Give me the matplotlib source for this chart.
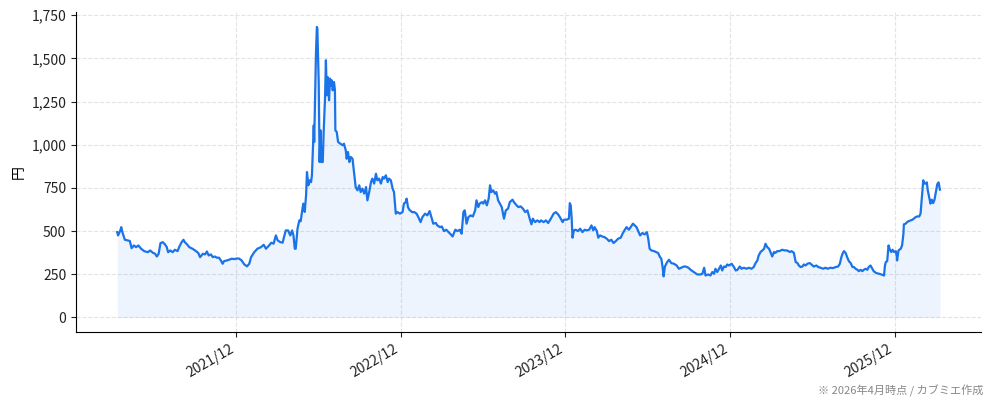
import matplotlib
matplotlib.use("Agg")
import matplotlib.pyplot as plt
import matplotlib.dates as mdates
from matplotlib.ticker import MultipleLocator, FuncFormatter
import pandas as pd
import numpy as np

plt.rcParams['font.family'] = ['Noto Sans CJK JP', 'DejaVu Sans']

# ---- data ----
base_date = "2021-12-01"
# calendar days relative to base_date
day_offset = [
    -264, -262, -257, -255, -252, -247, -241, -236, -232, -227, -222, -217, -211, -204,
    -196, -191, -185, -180, -176, -172, -168, -163, -158, -154, -151, -146, -141, -136,
    -130, -126, -121, -117, -114, -109, -104, -97, -89, -84, -80, -74, -69, -65, -61,
    -56, -52, -47, -43, -38, -34, -30, -27, -21, -16, -10, -4, 2, 7, 12, 18, 24, 29,
    33, 40, 47, 55, 61, 66, 73, 78, 83, 88, 92, 98, 103, 106, 110, 115, 120, 124, 127,
    130, 132, 136, 140, 143, 147, 149, 152, 155, 157, 160, 163, 166, 168, 172, 173, 175,
    177, 179, 180, 183, 185, 187, 189, 192, 194, 197, 199, 201, 203, 206, 208, 210, 212,
    214, 217, 219, 220, 223, 226, 231, 236, 239, 243, 245, 248, 251, 254, 258, 262, 265,
    269, 273, 276, 280, 284, 288, 291, 295, 299, 302, 306, 310, 313, 317, 321, 325, 328,
    332, 336, 339, 343, 347, 350,
    354, 358, 363, 369, 372, 376, 378, 381, 384, 390, 395, 400, 404, 409, 413, 419, 424,
    429, 434, 437, 443, 446, 452, 456, 461, 466, 471, 476, 480, 486, 491, 496, 500, 504,
    507, 511, 515, 520, 525, 530, 533, 537, 540, 545, 548, 552, 556, 560, 563, 566, 570,
    574, 577, 581, 585, 589, 594, 598, 603, 607, 613, 616, 622, 626, 631, 636, 641, 646,
    651, 655, 658, 663, 668, 673,
    676, 682, 687, 692, 698, 704, 709, 714, 718, 724, 727, 733, 738, 740, 742, 744, 746,
    749, 753, 758, 763, 768, 773, 778, 783, 788, 792, 795, 800, 803, 807, 812, 817, 822,
    827, 832, 837, 842, 847, 853, 857, 862, 866, 871, 875, 880, 884, 888, 891, 896, 901,
    906, 911, 914, 917, 921, 927, 931, 936, 940, 943, 946, 948, 951, 956, 960, 965, 971,
    977, 982, 987, 993,
    997, 1003, 1008, 1015, 1023, 1030, 1034, 1038, 1041, 1047, 1052, 1056, 1060, 1063,
    1067, 1071, 1075, 1078, 1082, 1086, 1089, 1093, 1099, 1104, 1108, 1112, 1117, 1121,
    1126, 1132, 1137, 1143, 1148, 1152, 1156, 1159, 1163, 1167, 1171, 1174, 1178, 1182,
    1185, 1189, 1193, 1196, 1200, 1205, 1211, 1217, 1222, 1228, 1232, 1237, 1241, 1245,
    1248, 1252, 1256, 1259, 1263, 1267, 1272, 1276, 1281, 1287, 1291,
    1296, 1302, 1307, 1312, 1318, 1324, 1330, 1335, 1339, 1342, 1345, 1348, 1352, 1355,
    1359, 1363, 1367, 1370, 1374, 1378, 1381, 1385, 1389, 1392, 1396, 1400, 1403, 1407,
    1411, 1414, 1420, 1426, 1431, 1437, 1439, 1441, 1444, 1447, 1450, 1453, 1456, 1459,
    1463, 1465, 1466, 1469, 1474, 1477, 1480, 1481, 1485, 1488, 1492, 1496, 1500, 1503,
    1507, 1511, 1515, 1518, 1520, 1522, 1524, 1527, 1530, 1532, 1534, 1537, 1540, 1543,
    1546, 1549, 1552, 1555, 1558, 1561,
]
price_yen = [
    494, 475, 504, 523, 490, 450, 446, 443, 401, 417, 407, 417, 398, 384,
    378, 388, 375, 369, 353, 369, 430, 436, 423, 407, 378, 388, 378, 392,
    384, 411, 436, 450, 436, 423, 407, 398, 384, 373, 349, 369, 365, 382, 359,
    365, 349, 353, 346, 346, 330, 311, 326, 330, 334, 340, 338, 342, 340, 330, 307, 296, 311,
    349, 378, 398, 407, 421, 398, 417, 433, 427, 475, 446, 436, 433, 465, 504, 504, 475, 504, 475,
    398, 398, 514, 562, 557, 630, 659, 611, 707, 842, 765, 794, 783, 823, 1112, 1016, 1267,
    1537, 1682, 1674, 1363, 900, 1083, 900, 900, 1074, 1267, 1489, 1286, 1392, 1257, 1383, 1344, 1373,
    1315, 1363, 1315, 1083, 1074, 1016, 1006, 997, 1006, 968, 919, 958, 900, 929, 919, 823, 755,
    736, 765, 726, 746, 717, 755, 678, 726, 784, 804, 775, 832, 794, 804, 775, 813, 804,
    823, 784, 804, 794, 746, 726,
    601, 610, 601, 610, 659, 668, 688, 639, 624, 610, 610, 601, 581, 552, 581, 601, 591,
    616, 572, 543, 547, 533, 523, 527, 500, 508, 494, 481, 469, 508, 500, 508, 485, 610,
    620, 543, 581, 591, 585, 620, 678, 639, 659, 668, 659, 678, 649, 688, 765, 726, 736,
    717, 726, 678, 659, 639, 572, 620, 630, 668, 682, 668, 649, 639, 643, 630, 610, 620,
    572, 539, 572, 552, 562, 552,
    562, 552, 562, 547, 572, 601, 610, 597, 581, 552, 566, 566, 572, 662, 649, 581, 462,
    504, 508, 500, 514, 494, 508, 504, 508, 533, 504, 523, 500, 462, 475, 469, 465, 456,
    442, 450, 431, 442, 456, 462, 485, 508, 523, 508, 523, 543, 533, 523, 504, 475, 489,
    481, 494, 456, 398, 388, 384, 379, 373, 350, 340, 288, 238, 295, 321, 334, 315, 311,
    301, 282, 288, 295,
    295, 288, 276, 263, 249, 249, 253, 288, 243, 249, 243, 263, 253, 282,
    263, 282, 301, 272, 295, 292, 307, 301, 311, 292, 272, 276, 295, 282,
    288, 282, 288, 282, 292, 315, 330, 359, 379, 388, 398, 427, 407, 398,
    379, 353, 379, 374, 384, 384, 392, 388, 388, 379, 384, 374, 321, 315,
    301, 292, 295, 307, 301, 311, 315, 307, 295, 301, 292,
    288, 282, 288, 282, 288, 286, 292, 295, 311, 346, 369, 384, 373, 350,
    326, 315, 292, 292, 282, 276, 268, 276, 268, 276, 282, 276, 292, 301,
    282, 268, 257, 253, 249, 243, 301, 321, 326, 417, 392, 379, 392, 379,
    384, 359, 330, 388, 398, 417, 485, 539, 543, 552, 558, 562, 566, 572,
    581, 585, 585, 601, 668, 736, 794, 775, 775, 782, 736, 697, 659, 682,
    662, 682, 726, 771, 782, 740,
]

y_label = "円"
footer_text = "※ 2026年4月時点 / カブミエ作成"

# ---- plot ----
dates = pd.Timestamp(base_date) + pd.to_timedelta(day_offset, unit="D")
price = np.array(price_yen, dtype=float)

line_color = "#1a73e8"

fig = plt.figure(figsize=(9.94, 4.0), dpi=100)
ax = fig.add_axes([0.0765, 0.17, 0.9105, 0.799])

ax.fill_between(dates, price, 0, color=line_color, alpha=0.08, linewidth=0)
ax.plot(dates, price, color=line_color, linewidth=1.6)

ax.yaxis.set_major_locator(MultipleLocator(250))
ax.yaxis.set_major_formatter(FuncFormatter(lambda v, p: f"{int(v):,}"))
ax.xaxis.set_major_locator(mdates.MonthLocator(bymonth=12, bymonthday=1))
ax.xaxis.set_major_formatter(mdates.DateFormatter("%Y/%m"))

ax.grid(True, linestyle="--", color="#dddddd", linewidth=0.8, alpha=0.8)
ax.set_axisbelow(True)
for s in ("top", "right"):
    ax.spines[s].set_visible(False)

ax.tick_params(axis="both", labelsize=10, colors="#222222")
for lab in ax.get_xticklabels():
    lab.set_rotation(30)
    lab.set_ha("right")

ax.set_ylabel(y_label, fontsize=10)

fig.text(0.989, 0.008, footer_text, ha="right", va="bottom", fontsize=8, color="#888888")

fig.savefig("out.png", dpi=100)
